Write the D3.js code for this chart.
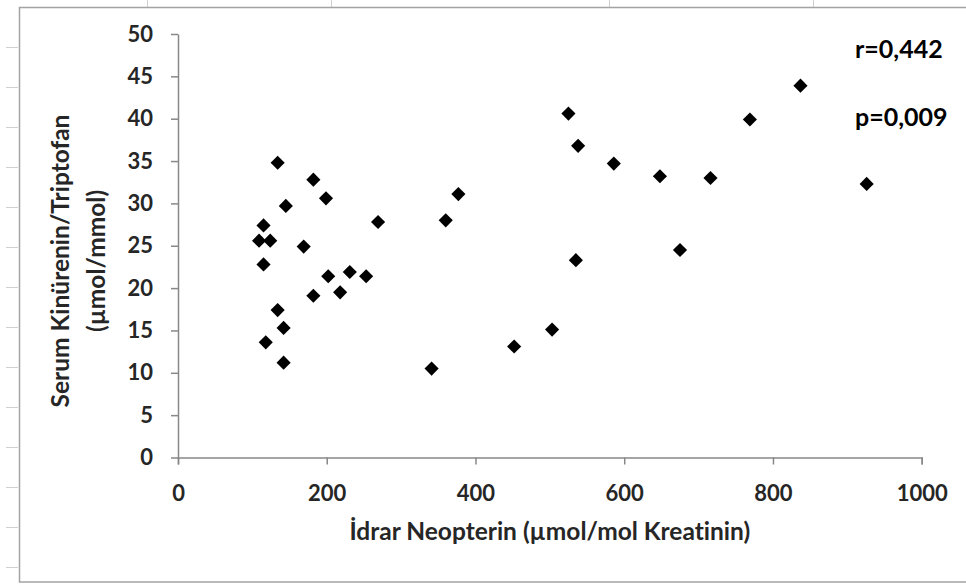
<!DOCTYPE html>
<html>
<head>
<meta charset="utf-8">
<script src="https://cdn.jsdelivr.net/npm/d3@7"></script>
<style>
  html, body { margin: 0; padding: 0; background: #fff; }
  svg { display: block; }
  text { font-family: Lato, "Open Sans", sans-serif; font-weight: bold; font-variant-ligatures: none; font-feature-settings: "liga" 0; }
</style>
</head>
<body>
<svg id="chart" width="966" height="585"></svg>
<script>
// Data
const neopterin = [134, 182, 199, 145, 269, 115, 109, 124, 169, 115, 202, 231, 253, 182, 218, 134, 142, 118, 142,
                   525, 538, 586, 377, 360, 535, 503, 452, 341, 648, 716, 926, 675, 769, 837];
const kynTrp    = [34.8, 32.8, 30.6, 29.7, 27.8, 27.4, 25.6, 25.6, 24.9, 22.8, 21.4, 21.9, 21.4, 19.1, 19.5, 17.4, 15.3, 13.6, 11.2,
                   40.6, 36.8, 34.7, 31.1, 28.0, 23.3, 15.1, 13.1, 10.5, 33.2, 33.0, 32.3, 24.5, 39.9, 43.9];
const xTicks = [0, 200, 400, 600, 800, 1000];
const yTicks = [0, 5, 10, 15, 20, 25, 30, 35, 40, 45, 50];
const xTitle = "İdrar Neopterin (µmol/mol Kreatinin)";
const yTitleLines = ["Serum Kinürenin/Triptofan", "(µmol/mmol)"];
const statLabels = ["r=0,442", "p=0,009"];

const svg = d3.select("#chart");

// spreadsheet cell lines around the chart object
const cellCols = [147, 331, 609, 813];
svg.selectAll("line.cellcol").data(cellCols).join("line")
  .attr("x1", d => d + 0.5).attr("x2", d => d + 0.5)
  .attr("y1", 0).attr("y2", 7)
  .attr("stroke", "#d0d0d0").attr("stroke-width", 1);
const cellRows = d3.range(47, 585, 40);
svg.selectAll("line.cellrow").data(cellRows).join("line")
  .attr("x1", 6).attr("x2", 18)
  .attr("y1", d => d + 0.5).attr("y2", d => d + 0.5)
  .attr("stroke", "#d0d0d0").attr("stroke-width", 1);

// chart frame
svg.append("rect")
  .attr("x", 19.5).attr("y", 7.5)
  .attr("width", 980).attr("height", 574.5)
  .attr("fill", "#fff")
  .attr("stroke", "#a3a3a3").attr("stroke-width", 1.5);

const x = d3.scaleLinear().domain([0, 1000]).range([178, 921.7]);
const y = d3.scaleLinear().domain([0, 50]).range([457.5, 34]);

const axisColor = "#888888";
const textColor = "#262626";

const xAxis = svg.append("g")
  .attr("transform", `translate(0,${y(0)})`)
  .call(d3.axisBottom(x).tickValues(xTicks).tickFormat(d3.format("d"))
        .tickSize(7).tickPadding(21).tickSizeOuter(7));
const yAxis = svg.append("g")
  .attr("transform", `translate(${x(0)},0)`)
  .call(d3.axisLeft(y).tickValues(yTicks).tickFormat(d3.format("d"))
        .tickSize(7).tickPadding(18).tickSizeOuter(0));

[xAxis, yAxis].forEach(g => {
  g.select(".domain").attr("stroke", axisColor).attr("stroke-width", 1.5);
  g.selectAll(".tick line").attr("stroke", axisColor).attr("stroke-width", 1.5);
  g.selectAll(".tick text").attr("fill", textColor)
    .style("font-size", "22px").style("font-family", "Lato, 'Open Sans', sans-serif").style("font-weight", "bold");
});

// points
const diamond = d3.symbol().type(d3.symbolSquare).size(100);
svg.append("g").selectAll("path").data(neopterin.map((v, i) => [v, kynTrp[i]])).join("path")
  .attr("d", diamond)
  .attr("transform", d => `translate(${x(d[0])},${y(d[1])}) rotate(45)`)
  .attr("fill", "#000");

// axis titles
svg.append("text")
  .attr("x", (x(0) + x(1000)) / 2).attr("y", 540)
  .attr("text-anchor", "middle")
  .attr("fill", textColor).style("font-size", "24.5px")
  .text(xTitle);

const yT = svg.append("text")
  .attr("transform", "translate(0,261) rotate(-90)")
  .attr("text-anchor", "middle")
  .attr("fill", textColor).style("font-size", "24.5px");
yTitleLines.forEach((t, i) => {
  yT.append("tspan").attr("x", 0).attr("y", 69 + i * 36).text(t);
});

// statistics annotation
svg.selectAll("text.stat").data(statLabels).join("text")
  .attr("class", "stat")
  .attr("x", 855).attr("y", (d, i) => 58 + i * 68)
  .attr("fill", "#000").style("font-size", "25px")
  .text(d => d);
</script>
</body>
</html>
